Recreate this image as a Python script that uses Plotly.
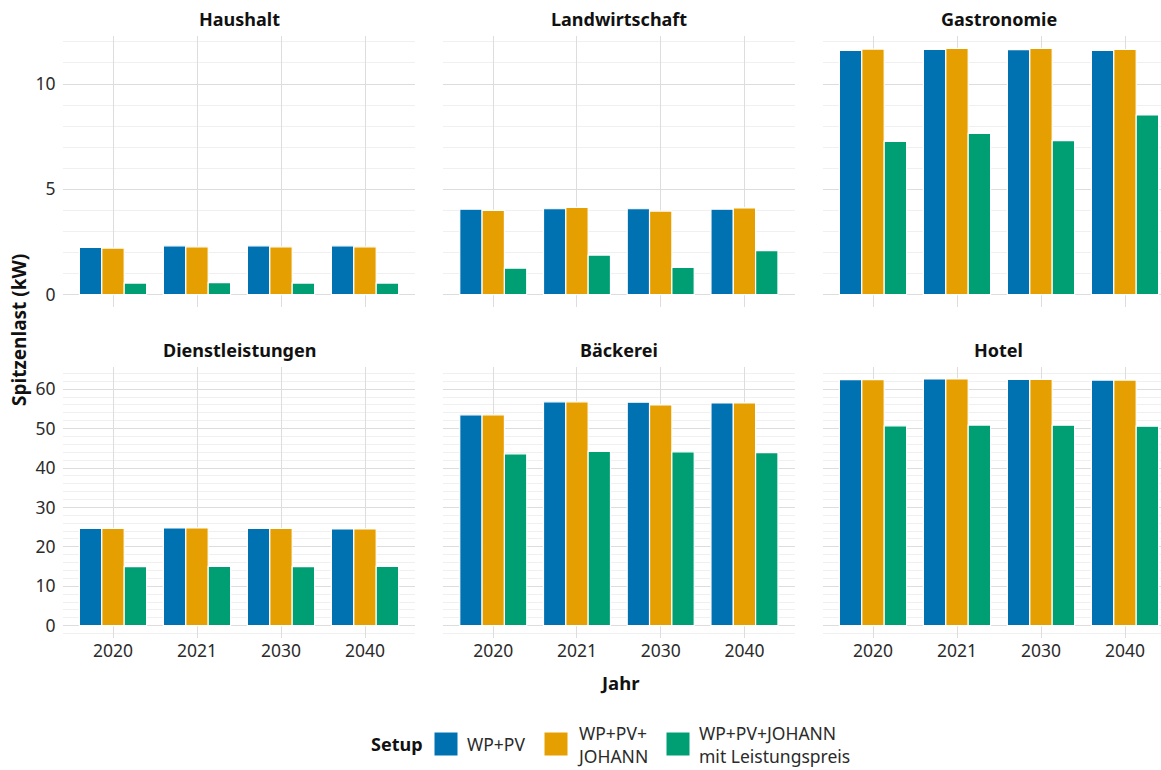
import plotly.graph_objects as go

W, H = 1161, 770

years = ["2020", "2021", "2030", "2040"]
setups = ["WP+PV", "WP+PV+JOHANN", "WP+PV+JOHANN mit Leistungspreis"]
legend_labels = ["WP+PV", "WP+PV+<br>JOHANN", "WP+PV+JOHANN<br>mit Leistungspreis"]
colors = ["#0072B2", "#E69F00", "#009E73"]
facets = ["Haushalt", "Landwirtschaft", "Gastronomie",
          "Dienstleistungen", "Bäckerei", "Hotel"]

# values (kW) per facet: [WP+PV, WP+PV+JOHANN, WP+PV+JOHANN mit Leistungspreis]
haushalt = [[2.24, 2.32, 2.32, 2.32], [2.21, 2.27, 2.27, 2.27], [0.55, 0.57, 0.55, 0.55]]
landwirtschaft = [[4.06, 4.08, 4.08, 4.06], [4.00, 4.14, 3.97, 4.12], [1.26, 1.88, 1.29, 2.09]]
gastronomie = [[11.60, 11.64, 11.63, 11.60], [11.66, 11.69, 11.69, 11.64], [7.28, 7.66, 7.31, 8.53]]
dienstleistungen = [[24.7, 24.8, 24.7, 24.55], [24.7, 24.8, 24.7, 24.55], [15.0, 15.05, 15.0, 15.05]]
baeckerei = [[53.5, 56.8, 56.7, 56.5], [53.5, 56.8, 56.0, 56.5], [43.6, 44.2, 44.1, 43.9]]
hotel = [[62.4, 62.6, 62.5, 62.3], [62.4, 62.6, 62.5, 62.3], [50.7, 50.9, 50.85, 50.6]]
facet_values = [haushalt, landwirtschaft, gastronomie, dienstleistungen, baeckerei, hotel]

top_ticks = [0, 5, 10]
bottom_ticks = [0, 10, 20, 30, 40, 50, 60]

FONT = "Noto Sans"
TICK_SIZE = 17.5

fig = go.Figure()

# panel geometry in pixels
col_px = [(62.6, 415.4), (443.0, 794.7), (822.6, 1161.0)]
col_range = [[-0.6, 3.6], [-0.6, 3.6], [-0.6, (1161.0 - 873.0) / 84.0]]
row_px = [(36.0, 307.0), (366.7, 638.0)]
row_range = [[-0.585, 12.28], [-3.13, 65.7]]
title_cx = [239.0, 619.0, 998.5]

for i, name in enumerate(facets):
    r, c = divmod(i, 3)
    ax = i + 1
    xa = "x" if ax == 1 else f"x{ax}"
    ya = "y" if ax == 1 else f"y{ax}"
    for s in range(3):
        fig.add_trace(go.Bar(
            x=years, y=facet_values[i][s], name=setups[s],
            marker=dict(color=colors[s], line=dict(color="white", width=1.2)),
            xaxis=xa, yaxis=ya, offsetgroup=str(s), legendgroup=setups[s],
            showlegend=False,
        ))
    x0, x1 = col_px[c]
    y0, y1 = row_px[r]
    xkey = "xaxis" if ax == 1 else f"xaxis{ax}"
    ykey = "yaxis" if ax == 1 else f"yaxis{ax}"
    fig.layout[xkey] = dict(
        domain=[x0 / W, min(x1 / W, 1.0)], anchor=ya, type="category",
        categoryorder="array", categoryarray=years, range=col_range[c],
        showgrid=True, gridcolor="#dddddd", gridwidth=1, zeroline=False,
        showline=False, ticks="", showticklabels=(r == 1),
        tickfont=dict(family=FONT, size=TICK_SIZE, color="#2b2b2b"),
        fixedrange=True,
    )
    fig.layout[ykey] = dict(
        domain=[1 - y1 / H, 1 - y0 / H], anchor=xa, range=row_range[r],
        tickmode="array", tickvals=(top_ticks if r == 0 else bottom_ticks),
        showgrid=True, gridcolor="#dddddd", gridwidth=1, zeroline=False,
        minor=dict(dtick=(1 if r == 0 else 2), showgrid=True,
                   gridcolor="#f0f0f0", gridwidth=1, tick0=0),
        showline=False, ticks="", showticklabels=(c == 0),
        tickfont=dict(family=FONT, size=TICK_SIZE, color="#2b2b2b"),
        ticklabelstandoff=6, fixedrange=True,
    )
    ty = 19 if r == 0 else 350
    fig.add_annotation(text=f"<b>{name}</b>", x=title_cx[c] / W, y=1 - ty / H,
                       xref="paper", yref="paper", showarrow=False,
                       xanchor="center", yanchor="middle",
                       font=dict(family=FONT, size=18, color="#111111"))

# axis titles
fig.add_annotation(text="<b>Jahr</b>", x=620 / W, y=1 - 682 / H, xref="paper", yref="paper",
                   showarrow=False, xanchor="center", yanchor="middle",
                   font=dict(family=FONT, size=18.5, color="#111111"))
fig.add_annotation(text="<b>Spitzenlast (kW)</b>", x=19 / W, y=1 - 330 / H, xref="paper",
                   yref="paper", showarrow=False, textangle=-90, xanchor="center",
                   yanchor="middle", font=dict(family=FONT, size=19, color="#111111"))

# legend (manual, ggplot-style)
LEG_Y = 744
fig.add_annotation(text="<b>Setup</b>", x=425 / W, y=1 - LEG_Y / H, xref="paper", yref="paper",
                   showarrow=False, xanchor="right", yanchor="middle",
                   font=dict(family=FONT, size=18, color="#111111"))
key_x = [434, 544, 666]
for s in range(3):
    kx = key_x[s]
    fig.add_shape(type="rect", xref="paper", yref="paper",
                  x0=kx / W, x1=(kx + 24) / W, y0=1 - (LEG_Y + 12) / H, y1=1 - (LEG_Y - 12) / H,
                  fillcolor=colors[s], line=dict(color="white", width=1))
    fig.add_annotation(text=legend_labels[s], x=(kx + 31) / W, y=1 - LEG_Y / H,
                       xref="paper", yref="paper", showarrow=False,
                       xanchor="left", yanchor="middle", align="left",
                       font=dict(family=FONT, size=17.5, color="#2b2b2b"))

fig.update_layout(
    width=W, height=H, margin=dict(l=0, r=0, t=0, b=0),
    paper_bgcolor="white", plot_bgcolor="white",
    barmode="group", bargap=0.2, bargroupgap=0.0,
    showlegend=False, font=dict(family=FONT),
)

fig.write_html("out.html")
